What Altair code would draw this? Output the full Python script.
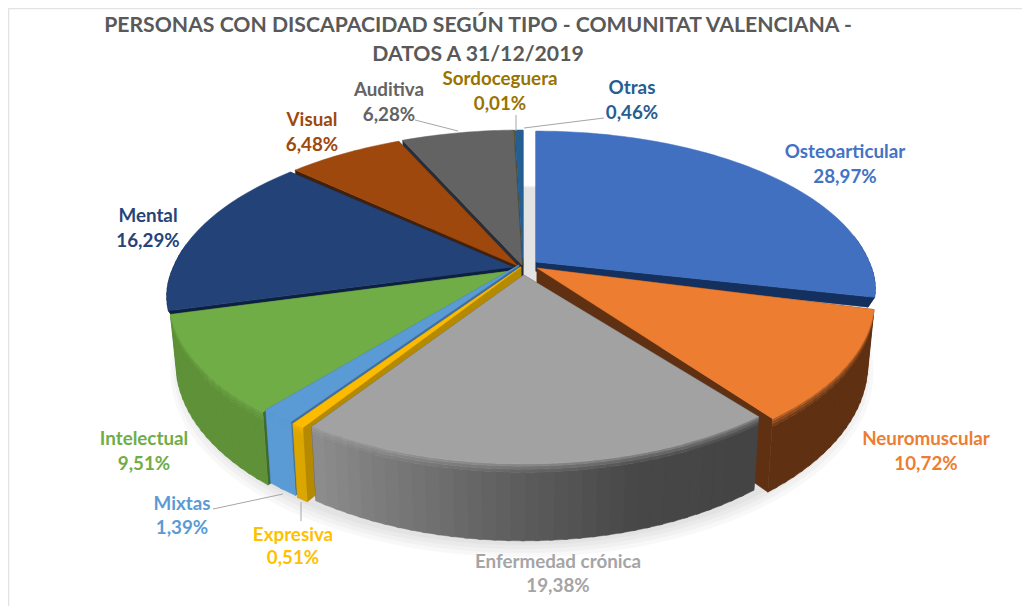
import math
import altair as alt
import pandas as pd

# ---- values ----
categories = ["Osteoarticular", "Neuromuscular", "Enfermedad crónica", "Expresiva", "Mixtas",
              "Intelectual", "Mental", "Visual", "Auditiva", "Sordoceguera", "Otras"]
shares = [28.97, 10.72, 19.38, 0.51, 1.39, 9.51, 16.29, 6.48, 6.28, 0.01, 0.46]
share_labels = ["28,97%", "10,72%", "19,38%", "0,51%", "1,39%", "9,51%", "16,29%", "6,48%", "6,28%", "0,01%", "0,46%"]
title_lines = ["PERSONAS CON DISCAPACIDAD SEGÚN TIPO - COMUNITAT VALENCIANA -", "DATOS A 31/12/2019"]

# ---- style ----
top_colors = ["#4170c0", "#ed7d31", "#a2a2a2", "#fdbb00", "#5b9bd5", "#70ad47", "#234277", "#9e480e", "#636363", "#997300", "#255e91"]
label_colors = ["#4472c4", "#ed7d31", "#a5a5a5", "#ffc000", "#5b9bd5", "#70ad47", "#264478", "#9e480e", "#636363", "#997300", "#255e91"]
wall_colors = ["#14305e", "#5f3112", None, "#dba600", "#5b9bd5", "#5f9139", "#0d2042", "#5f3112", "#444444", "#6b5000", "#1a4468"]
face_colors = ["#14305e", "#5f3112", "#444444", "#b58a00", "#3f6f9e", "#3f6a2a", "#0d2042", "#43200a", "#2a2e38", "#3d2e00", "#15324f"]
paint_order = [10, 9, 8, 7, 6, 0, 1, 5, 4, 3, 2]
# explosion of every slice: dx, dy, x-scale, back y-scale, front y-scale, apex drop, depth factor
explode = [(14, -3, .98, .97, .85, 0, .15), (15, 3, .975, 1, 1, 0, 1), (1.8, 1, .972, 1, 1, 9, 1), (-1, 2, 1, 1, 1, 0, 1),
           (-3, 0, 1, 1, 1, 0, 1), (-3.5, 2, 1.01, 1, 1, 3, 1), (-9, 3, 1, 1, .9, -1, .15), (-4, 1, 1, 1, 1, 0, 1),
           (0, 0, 1, 1, 1, 0, 1), (0, 0, 1, 1, 1, 0, 1), (1, 0, 1, 1, 1, 0, 1)]
CX, CY, A, B, K, D0 = 522, 265, 340, 160.5, .189, 62.4
LOW = .98

rows = []
poly_id = 0


def pt(th, r, f, e):
    """Perspective position of a point at angle th, radius r, depth fraction f."""
    dx, dy, sx, sb, sf, ay, dep = e
    u, v = r * math.sin(th), -r * math.cos(th)
    den = 1 - K * v
    sy = sf if v > 0 else sb
    x = CX + dx + A * sx * u / den * (1 - (1 - LOW) * f)
    y = CY + dy + (B * sy * v + D0 * dep * f) / den + (ay if r == 0 else 0)
    return x, y


def add(points, color, opacity=1.0):
    global poly_id
    for i, (x, y) in enumerate(points):
        rows.append({"poly": f"p{poly_id:04d}", "i": i, "x": x, "y": y, "c": color, "o": opacity})
    poly_id += 1


def grey_wall(t):
    # t: 0 at the right end of the slice, 1 at the left end
    stops = [(0, 0x44), (.3, 0x48), (.55, 0x5e), (1, 0x8e)]
    for (a, ca), (b, cb) in zip(stops, stops[1:]):
        if t <= b:
            g = int(ca + (cb - ca) * (t - a) / (b - a))
            return f"#{g:02x}{g:02x}{g:02x}"
    return "#8e8e8e"


def blend(c1, c2, w):
    a = [int(c1[i:i + 2], 16) for i in (1, 3, 5)]
    b = [int(c2[i:i + 2], 16) for i in (1, 3, 5)]
    return "#" + "".join(f"{int(p + (q - p) * w):02x}" for p, q in zip(a, b))


# soft shadow under the pie
for grow, off in [(1.035, 10), (1.025, 8), (1.015, 6), (1.005, 4)]:
    pts = []
    for d in range(0, 360, 3):
        th = math.radians(d)
        u, v = math.sin(th), -math.cos(th)
        den = 1 - K * v
        pts.append((CX + A * grow * LOW * u / den, CY + off + (B * grow * v + D0) / den))
    add(pts, "#000000", .025)

total = sum(shares)
starts, acc = [], 0
for s in shares:
    starts.append(acc)
    acc += s

bands = [(0, .03, .6), (.03, .07, .35), (.07, .11, .15), (.11, 1, 0)]

for idx in paint_order:
    e = explode[idx]
    t0 = math.radians(starts[idx] / total * 360)
    t1 = math.radians((starts[idx] + shares[idx]) / total * 360)
    for th in (t0, t1):
        add([pt(th, 0, 0, e), pt(th, 1, 0, e), pt(th, 1, 1, e), pt(th, 0, 1, e)], face_colors[idx])
    n = max(1, int((t1 - t0) / math.radians(2)))
    for j in range(n):
        a = t0 + (t1 - t0) * j / n
        b = min(t1, t0 + (t1 - t0) * (j + 1) / n + math.radians(.6))
        if -math.cos((a + b) / 2) < -.15:
            continue
        base = wall_colors[idx] or grey_wall((j + .5) / n)
        if e[6] < 1:
            add([pt(a, 1, 0, e), pt(b, 1, 0, e), pt(b, 1, 1, e), pt(a, 1, 1, e)], base)
            continue
        for f0, f1, w in bands[::-1]:
            add([pt(a, 1, f0, e), pt(b, 1, f0, e), pt(b, 1, f1, e), pt(a, 1, f1, e)], blend(base, top_colors[idx], w))
    m = max(1, int((t1 - t0) / math.radians(1)))
    add([pt(t0, 0, 0, e)] + [pt(t0 + (t1 - t0) * j / m, 1, 0, e) for j in range(m + 1)], top_colors[idx])

df = pd.DataFrame(rows)

X = alt.X("x:Q", scale=alt.Scale(domain=[8, 1022], nice=False, zero=False), axis=None)
Y = alt.Y("y:Q", scale=alt.Scale(domain=[8, 606], nice=False, zero=False, reverse=True), axis=None)

shapes = alt.Chart(df).mark_line(interpolate="linear-closed", strokeWidth=.5, filled=True).encode(
    x=X, y=Y, detail="poly:N", order="i:Q",
    fill=alt.Fill("c:N", scale=None), stroke=alt.Stroke("c:N", scale=None),
    opacity=alt.Opacity("o:Q", scale=None),
)

# frame of the picture
frame = pd.DataFrame([
    {"x": 8.5, "y": 8, "x2": 8.5, "y2": 606},
    {"x": 8, "y": 8.5, "x2": 1022, "y2": 8.5},
])
frame_marks = alt.Chart(frame).mark_rule(color="#e2e2e2", strokeWidth=1.5).encode(x=X, y=Y, x2="x2:Q", y2="y2:Q")

# leader lines
leaders = pd.DataFrame([
    {"x": 415, "y": 120, "x2": 458, "y2": 131},
    {"x": 516, "y": 115, "x2": 516, "y2": 131},
    {"x": 524, "y": 128, "x2": 604, "y2": 118},
    {"x": 213, "y": 509, "x2": 283, "y2": 494},
    {"x": 301, "y": 502, "x2": 301, "y2": 521},
])
leader_marks = alt.Chart(leaders).mark_rule(color="#a6a6a6", strokeWidth=1).encode(x=X, y=Y, x2="x2:Q", y2="y2:Q")

# label anchors on the page
label_x = [845, 926, 558, 293, 182, 144, 148, 312, 389, 500, 632]
label_y1 = [152, 439, 562, 535, 504, 439, 216, 120, 90, 79, 88]
label_y2 = [177, 464, 586, 558, 528, 464, 241, 145, 115, 104, 113]
lab = []
for i, cat in enumerate(categories):
    lab.append({"t": cat, "x": label_x[i], "y": label_y1[i], "c": label_colors[i]})
    lab.append({"t": share_labels[i], "x": label_x[i], "y": label_y2[i], "c": label_colors[i]})
labels = alt.Chart(pd.DataFrame(lab)).mark_text(font="Lato", fontWeight="bold", fontSize=18.8, baseline="middle", align="center").encode(
    x=X, y=Y, text="t:N", color=alt.Color("c:N", scale=None))

titles = alt.Chart(pd.DataFrame({"t": title_lines, "x": [478, 478], "y": [26, 55]})).mark_text(
    font="Lato", fontWeight="bold", fontSize=21.2, baseline="middle", align="center", color="#595959").encode(x=X, y=Y, text="t:N")

chart = alt.layer(frame_marks, shapes, leader_marks, labels, titles).properties(
    width=1014, height=598, padding=0, autosize=alt.AutoSizeParams(type="none")
).configure_view(stroke=None)
chart.save("out.html", embed_options={"renderer": "svg", "actions": False})
